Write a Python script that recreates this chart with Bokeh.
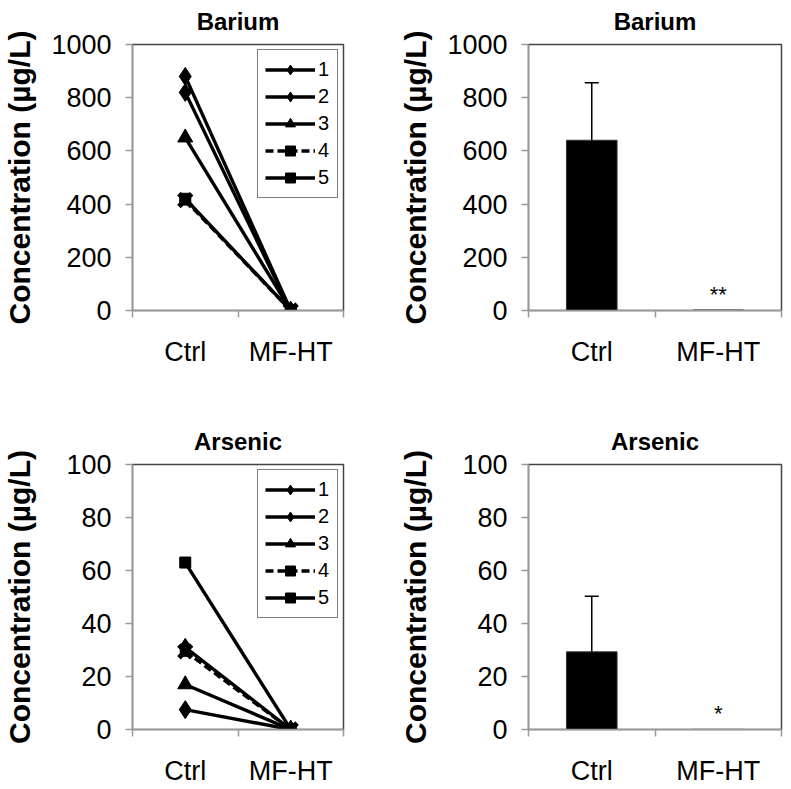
import numpy as np
from bokeh.plotting import figure
from bokeh.layouts import column, row
from bokeh.models import (FixedTicker, Legend, LegendItem, Whisker, ColumnDataSource,
                          Range1d, TeeHead)
from bokeh.core.properties import value
from bokeh.embed import file_html
from bokeh.resources import INLINE

# ---------------- data ----------------
categories = ["Ctrl", "MF-HT"]
series_labels = ["1", "2", "3", "4", "5"]

barium_ctrl = [880, 820, 650, 415, 420]
barium_mfht = [0, 0, 0, 0, 0]
arsenic_ctrl = [7.5, 31, 17, 29.5, 63]
arsenic_mfht = [0, 0, 0, 0, 0]

barium_mean = [640, 2]
barium_sd = [216, 0]
arsenic_mean = [29.3, 0.05]
arsenic_sd = [21, 0]
barium_sig = ["", "**"]
arsenic_sig = ["", "*"]

barium_ticks = [0, 200, 400, 600, 800, 1000]
arsenic_ticks = [0, 20, 40, 60, 80, 100]

# ---------------- styling ----------------
FONT = "Liberation Sans"
AXIS_GRAY = "#9a9a9a"
series_markers = ["diamond", "diamond", "triangle", "x", "square"]
series_dash = ["solid", "solid", "solid", "8 4", "solid"]
draw_order = [0, 1, 2, 4, 3]   # dashed "x" series painted on top

cat_x = [i + 0.5 for i in range(len(categories))]
cat_bounds = list(range(len(categories) + 1))


def base_fig(title, yticks, width, height, bl, br, bt, bb, ylab_standoff):
    p = figure(width=width, height=height,
               x_range=Range1d(0, len(categories)),
               y_range=Range1d(yticks[0], yticks[-1]),
               output_backend="svg", toolbar_location=None,
               min_border_left=bl, min_border_right=br,
               min_border_top=bt, min_border_bottom=bb)
    p.title.text = title
    p.title.align = "center"
    p.title.vertical_align = "top"
    p.title.text_font = FONT
    p.title.text_font_size = "24px"
    p.title.text_font_style = "bold"
    p.title.text_color = "black"
    p.title.standoff = 15
    p.xgrid.visible = False
    p.ygrid.visible = False
    p.outline_line_color = "#444444"
    p.outline_line_width = 1.5
    p.background_fill_color = "white"
    p.border_fill_color = "white"

    ya = p.yaxis[0]
    ya.ticker = FixedTicker(ticks=yticks)
    ya.axis_label = "Concentration (µg/L)"
    ya.axis_label_text_font = FONT
    ya.axis_label_text_font_size = "30px"
    ya.axis_label_text_font_style = "bold"
    ya.axis_label_text_color = "black"
    ya.axis_label_standoff = ylab_standoff
    ya.major_label_text_font = FONT
    ya.major_label_text_font_size = "27px"
    ya.major_label_text_color = "black"
    ya.major_label_standoff = 14
    ya.major_tick_out = 7
    ya.major_tick_in = 0
    ya.minor_tick_line_color = None
    ya.axis_line_color = AXIS_GRAY
    ya.axis_line_width = 1.5
    ya.major_tick_line_color = AXIS_GRAY
    ya.major_tick_line_width = 1.5

    xa = p.xaxis[0]
    xa.ticker = FixedTicker(ticks=cat_x, minor_ticks=cat_bounds)
    xa.major_label_overrides = {x: c for x, c in zip(cat_x, categories)}
    xa.major_label_text_font = FONT
    xa.major_label_text_font_size = "27px"
    xa.major_label_text_color = "black"
    xa.major_label_standoff = 19
    xa.major_tick_out = 0
    xa.major_tick_in = 0
    xa.major_tick_line_color = None
    xa.minor_tick_out = 7
    xa.minor_tick_in = 0
    xa.minor_tick_line_color = AXIS_GRAY
    xa.minor_tick_line_width = 1.5
    xa.axis_line_color = AXIS_GRAY
    xa.axis_line_width = 1.5
    return p


def line_panel(title, ctrl, mfht, yticks, width, height, bl, br, bt, bb, ylab_standoff):
    p = base_fig(title, yticks, width, height, bl, br, bt, bb, ylab_standoff)
    items = {}
    for i in draw_order:
        lab = series_labels[i]
        ys = [ctrl[i], mfht[i]]
        lr = p.line(cat_x, ys, line_color="black", line_width=3.4,
                    line_dash=series_dash[i])
        rs = []
        m = series_markers[i]
        if m == "diamond":
            rs.append(p.scatter(cat_x, ys, marker="diamond", size=18, color="black"))
        elif m == "triangle":
            rs.append(p.scatter(cat_x, ys, marker="triangle", size=15, color="black"))
        elif m == "square":
            rs.append(p.scatter(cat_x, ys, marker="square", size=11, color="black"))
        else:
            rs.append(p.scatter(cat_x, ys, marker="square", size=10, color="black"))
            rs.append(p.scatter(cat_x, ys, marker="x", size=18, line_width=5,
                                line_color="black"))
        items[i] = LegendItem(label=lab, renderers=[lr] + rs)
    leg = Legend(items=[items[i] for i in range(len(series_labels))],
                 location="top_right")
    leg.margin = 5
    leg.padding = 7
    leg.spacing = 2
    leg.glyph_width = 50
    leg.glyph_height = 25
    leg.label_width = 12
    leg.label_standoff = 3
    leg.label_text_font = FONT
    leg.label_text_font_size = "20px"
    leg.label_text_color = "black"
    leg.border_line_color = "black"
    leg.border_line_width = 1
    leg.background_fill_color = "white"
    leg.background_fill_alpha = 1
    p.add_layout(leg)
    return p


def bar_panel(title, mean, sd, sig, yticks, width, height, bl, br, bt, bb, ylab_standoff):
    p = base_fig(title, yticks, width, height, bl, br, bt, bb, ylab_standoff)
    p.vbar(x=cat_x, top=mean, width=0.4, fill_color="black", line_color="#333333",
           line_width=1)
    idx = [i for i in range(len(mean)) if sd[i] > 0]
    src = ColumnDataSource(dict(base=[cat_x[i] for i in idx],
                                lower=[mean[i] for i in idx],
                                upper=[mean[i] + sd[i] for i in idx]))
    w = Whisker(base="base", lower="lower", upper="upper", source=src,
                line_color="black", line_width=1.5,
                upper_head=TeeHead(size=14, line_width=1.5, line_color="black"),
                lower_head=None)
    p.add_layout(w)
    ymax = yticks[-1]
    p.text(x=cat_x, y=[mean[i] + sd[i] + 0.06 * ymax for i in range(len(mean))],
           text=sig, text_font=value(FONT), text_font_size="22px",
           text_align="center", text_baseline="alphabetic", text_color="black")
    return p


W_L, W_R = 396, 393
H_T, H_B = 394, 394
BL_L, BR_L = 132, 53
BL_R, BR_R = 128, 8
BT_T, BB_T = 44, 84
BT_B, BB_B = 70, 59

p1 = line_panel("Barium", barium_ctrl, barium_mfht, barium_ticks,
                W_L, H_T, BL_L, BR_L, BT_T, BB_T, 12)
p2 = bar_panel("Barium", barium_mean, barium_sd, barium_sig, barium_ticks,
               W_R, H_T, BL_R, BR_R, BT_T, BB_T, 12)
p3 = line_panel("Arsenic", arsenic_ctrl, arsenic_mfht, arsenic_ticks,
                W_L, H_B, BL_L, BR_L, BT_B, BB_B, 27)
p4 = bar_panel("Arsenic", arsenic_mean, arsenic_sd, arsenic_sig, arsenic_ticks,
               W_R, H_B, BL_R, BR_R, BT_B, BB_B, 27)

layout = column(row(p1, p2), row(p3, p4))

with open("out.html", "w") as f:
    f.write(file_html(layout, INLINE))
